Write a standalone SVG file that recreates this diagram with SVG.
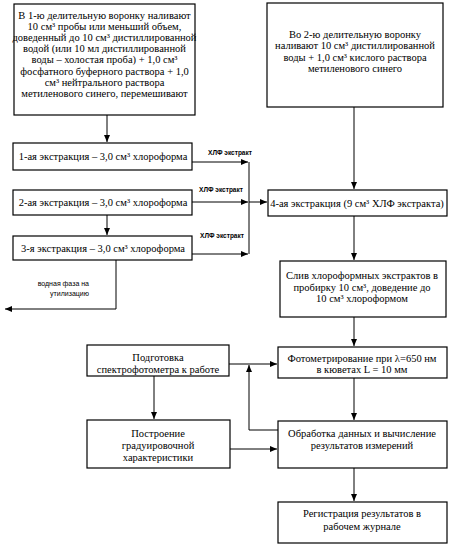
<svg xmlns="http://www.w3.org/2000/svg" width="451" height="546" viewBox="0 0 451 546">
<style>
  .box { fill: #fff; stroke: #000; stroke-width: 1.2; }
  .t { font-family: "Liberation Serif", "Times New Roman", serif; font-size: 10.5px; fill: #000; text-anchor: middle; }
  .s { font-family: "Liberation Sans", Arial, sans-serif; font-size: 6.5px; font-weight: bold; fill: #000; }
  .w { font-family: "Liberation Sans", Arial, sans-serif; font-size: 7px; fill: #000; text-anchor: end; }
  .c { fill: none; stroke: #000; stroke-width: 1; }
</style>
<defs>
  <marker id="ah" markerUnits="userSpaceOnUse" markerWidth="8" markerHeight="8" refX="7" refY="4" orient="auto">
    <path d="M0,1 L7,4 L0,7 Z" fill="#000"/>
  </marker>
</defs>
<rect width="451" height="546" fill="#fff"/>

<g id="connectors">
  <path class="c" d="M107,115 V142" marker-end="url(#ah)"/>
  <path class="c" d="M107,215 V235" marker-end="url(#ah)"/>
  <path class="c" d="M116,260 V309 H5" marker-end="url(#ah)"/>
  <path class="c" d="M192,162 H248" marker-end="url(#ah)"/>
  <path class="c" d="M192,202 H248" marker-end="url(#ah)"/>
  <path class="c" d="M192,254 H248" marker-end="url(#ah)"/>
  <path class="c" d="M249,162 V254"/>
  <path class="c" d="M249,202 H267" marker-end="url(#ah)"/>
  <path class="c" d="M354,107 V189" marker-end="url(#ah)"/>
  <path class="c" d="M354,216 V260" marker-end="url(#ah)"/>
  <path class="c" d="M354,317 V346" marker-end="url(#ah)"/>
  <path class="c" d="M354,378 V420" marker-end="url(#ah)"/>
  <path class="c" d="M354,468 V501" marker-end="url(#ah)"/>
  <path class="c" d="M229,364 H277" marker-end="url(#ah)"/>
  <path class="c" d="M278,430 H249 V365" marker-end="url(#ah)"/>
  <path class="c" d="M154,376 V419" marker-end="url(#ah)"/>
  <path class="c" d="M230,449 H277" marker-end="url(#ah)"/>
</g>

<g id="labels">
  <text class="s" x="230" y="155" text-anchor="middle">ХЛФ экстракт</text>
  <text class="s" x="221" y="192" text-anchor="middle">ХЛФ экстракт</text>
  <text class="s" x="222" y="238" text-anchor="middle">ХЛФ экстракт</text>
  <text class="w" x="89" y="285.5">водная фаза на</text>
  <text class="w" x="89" y="296">утилизацию</text>
</g>

<g id="box1">
  <rect class="box" x="14" y="4" width="181" height="111"/>
  <text class="t" x="104.5" y="18.5">В 1-ю делительную воронку наливают</text>
  <text class="t" x="104.5" y="29.7">10 см³ пробы или меньший объем,</text>
  <text class="t" x="104.5" y="40.9">доведенный до 10 см³ дистиллированной</text>
  <text class="t" x="104.5" y="52.1">водой (или 10 мл дистиллированной</text>
  <text class="t" x="104.5" y="63.3">воды – холостая проба) + 1,0 см³</text>
  <text class="t" x="104.5" y="74.5">фосфатного буферного раствора + 1,0</text>
  <text class="t" x="104.5" y="85.7">см³ нейтрального раствора</text>
  <text class="t" x="104.5" y="96.9">метиленового синего, перемешивают</text>
</g>

<g id="box2">
  <rect class="box" x="267" y="3" width="176" height="104"/>
  <text class="t" x="355" y="37.5">Во 2-ю делительную воронку</text>
  <text class="t" x="355" y="49">наливают 10 см³ дистиллированной</text>
  <text class="t" x="355" y="60.5">воды + 1,0 см³ кислого раствора</text>
  <text class="t" x="355" y="72">метиленового синего</text>
</g>

<g id="extr1">
  <rect class="box" x="13" y="143" width="179" height="27"/>
  <text class="t" x="103" y="160">1-ая экстракция – 3,0 см³ хлороформа</text>
</g>
<g id="extr2">
  <rect class="box" x="13" y="190" width="179" height="25"/>
  <text class="t" x="103" y="206">2-ая экстракция – 3,0 см³ хлороформа</text>
</g>
<g id="extr3">
  <rect class="box" x="13" y="236" width="179" height="24"/>
  <text class="t" x="103" y="251.5">3-я экстракция – 3,0 см³ хлороформа</text>
</g>
<g id="extr4">
  <rect class="box" x="268" y="190" width="179" height="26"/>
  <text class="t" x="357" y="206.5">4-ая экстракция (9 см³ ХЛФ экстракта)</text>
</g>

<g id="sliv">
  <rect class="box" x="280" y="261" width="166" height="56"/>
  <text class="t" x="362" y="278.5">Слив хлороформных экстрактов в</text>
  <text class="t" x="362" y="290.5">пробирку 10 см³, доведение до</text>
  <text class="t" x="362" y="301.5">10 см³ хлороформом</text>
</g>

<g id="foto">
  <rect class="box" x="278" y="347" width="169" height="31"/>
  <text class="t" x="362" y="361.5">Фотометрирование при λ=650 нм</text>
  <text class="t" x="362" y="373">в кюветах L = 10 мм</text>
</g>

<g id="obrab">
  <rect class="box" x="278" y="421" width="169" height="47"/>
  <text class="t" x="362" y="436.5">Обработка данных и вычисление</text>
  <text class="t" x="362" y="448.5">результатов измерений</text>
</g>

<g id="reg">
  <rect class="box" x="278" y="502" width="169" height="41"/>
  <text class="t" x="362" y="516.5">Регистрация результатов в</text>
  <text class="t" x="362" y="530">рабочем журнале</text>
</g>

<g id="podg">
  <rect class="box" x="87" y="345" width="142" height="31"/>
  <text class="t" x="158" y="360.5">Подготовка</text>
  <text class="t" x="158" y="372.5">спектрофотометра к работе</text>
</g>

<g id="postr">
  <rect class="box" x="87" y="420" width="143" height="48"/>
  <text class="t" x="158" y="436.5">Построение</text>
  <text class="t" x="158" y="448.5">градуировочной</text>
  <text class="t" x="158" y="460.5">характеристики</text>
</g>
</svg>
